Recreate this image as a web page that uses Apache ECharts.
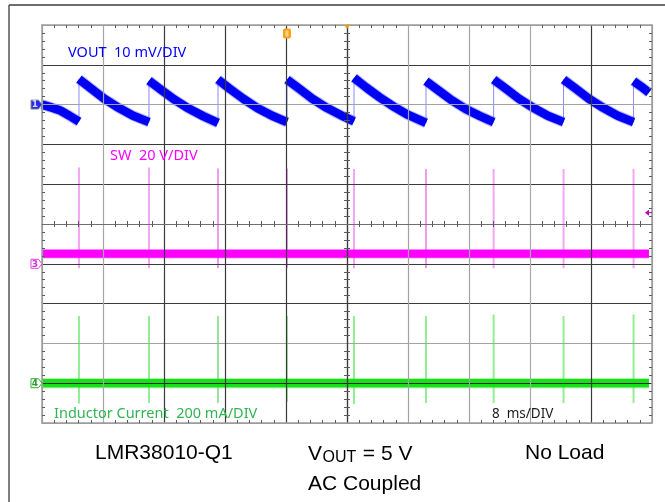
<!DOCTYPE html>
<html><head><meta charset="utf-8">
<script src="https://cdn.jsdelivr.net/npm/echarts@6/dist/echarts.min.js"></script>
<style>html,body{margin:0;padding:0;background:#fff;}#c{width:665px;height:502px;}</style>
</head><body><div id="c"></div>
<script>
// ---- data (time in ms, 8 ms/div) ----
const switchTimesMs = [4.85, 14.03, 23.08, 32.13, 40.92, 50.36, 59.23, 68.40, 77.58];
const traceSpanMs = [0, 79.6];
// VOUT ripple (AC coupled), mV, one sub-array per ramp
const voutTimeMs = [
  [0.00, 1.20, 2.40, 3.60, 4.85],
  [4.85, 6.45, 8.15, 10.05, 11.95, 14.03],
  [14.03, 15.63, 17.33, 19.23, 21.13, 23.08],
  [23.08, 24.68, 26.38, 28.28, 30.18, 32.13],
  [32.13, 33.73, 35.43, 37.33, 39.23, 40.92],
  [40.92, 42.52, 44.22, 46.12, 48.02, 50.36],
  [50.36, 51.96, 53.66, 55.56, 57.46, 59.23],
  [59.23, 60.83, 62.53, 64.43, 66.33, 68.40],
  [68.40, 70.00, 71.70, 73.60, 75.50, 77.58],
  [77.58, 78.60, 79.60]
];
const voutMv = [
  [0.0, -0.7, -1.5, -2.8, -4.3],
  [6.4, 4.0, 1.5, -0.8, -2.8, -4.4],
  [6.0, 3.7, 1.3, -1.0, -2.9, -4.6],
  [6.3, 3.9, 1.5, -0.9, -2.8, -4.4],
  [6.3, 4.0, 1.5, -0.8, -2.7, -4.2],
  [6.7, 4.3, 1.9, -0.5, -2.6, -4.6],
  [5.9, 3.6, 1.2, -1.1, -2.9, -4.4],
  [6.3, 4.0, 1.5, -0.8, -2.8, -4.4],
  [6.3, 4.0, 1.5, -0.8, -2.8, -4.4],
  [5.9, 4.5, 3.0]
];
// SW node, V
const swLevelV = 5.0;
const swSpikeHighV = [48.4, 48.4, 47.9, 47.9, 47.6, 47.6, 47.6, 47.6, 47.6];
const swSpikeLowV = [-2.2, -2.2, -2.2, -2.2, -2.2, -2.2, -2.2, -2.2, -2.2];
const triggerLevelV = 25.7;
// Inductor current, mA
const ilLevelmA = 0;
const ilSpikeHighmA = [338, 338, 338, 338, 338, 338, 345, 338, 345];
const ilSpikeLowmA = [-102, -99, -99, -94, -106, -99, -99, -99, -99];

// ---- channel setup (div offsets and scales) ----
const ch = {
  vout: {ref: 3, perDiv: 10},
  sw: {ref: -1, perDiv: 20},
  il: {ref: -4, perDiv: 200}
};
const swDarkIdx = [2, 3, 5];
const ilDarkIdx = [2, 3];

const toDiv = (c, v) => c.ref + v / c.perDiv;
const GAP = '-';

const voutThick = [];
const voutThin = [];
voutTimeMs.forEach((seg, s) => {
  seg.forEach((t, i) => {
    const p = [t, toDiv(ch.vout, voutMv[s][i])];
    voutThick.push(p); voutThin.push(p);
  });
  voutThick.push([seg[seg.length - 1], GAP]);
});
function spikes(c, highs, lows, pick) {
  const out = [];
  switchTimesMs.forEach((t, i) => {
    if (!pick(i)) return;
    out.push([t, toDiv(c, lows[i])], [t, toDiv(c, highs[i])], [t, GAP]);
  });
  return out;
}
const flat = (c, v) => traceSpanMs.map(t => [t, toDiv(c, v)]);

const lineS = (name, data, color, width, z, extra) => Object.assign({
  type: 'line', name, data, symbol: 'none', silent: true, z,
  lineStyle: {color, width, cap: 'butt', join: 'round'},
  connectNulls: false, animation: false
}, extra || {});

const xCols = ['#9e9e9e','#a6a6a6','#3a3a3a','#3a3a3a','#3a3a3a','#3a3a3a','#a2a2a2','#a2a2a2','#aaaaaa','#3a3a3a','#9e9e9e'];
const yCols = ['#9e9e9e','#262626','#a2a2a2','#3a3a3a','#3a3a3a','#6e6e6e','#3a3a3a','#3a3a3a','#a2a2a2','#3a3a3a','#9e9e9e'];

const baseAxis = {
  type: 'value', silent: true, z: 10,
  axisLabel: {show: false},
  axisTick: {show: false, inside: true},
  minorTick: {show: true, splitNumber: 5, length: 3, lineStyle: {color: '#5a5a5a', width: 1}},
  axisLine: {show: true, onZero: false, lineStyle: {color: '#9c9c9c', width: 1.5}},
  splitLine: {show: false}
};
const ax = (o) => Object.assign({}, baseAxis, o);

const chart = echarts.init(document.getElementById('c'), null, {renderer: 'canvas'});
chart.setOption({
  backgroundColor: '#ffffff',
  animation: false,
  grid: {left: 42, top: 25, right: 13, bottom: 79, outerBoundsMode: 'none', containLabel: false},
  xAxis: [
    ax({min: 0, max: 80, interval: 8, position: 'bottom',
        splitLine: {show: true, lineStyle: {color: xCols, width: 1.2}}}),
    ax({min: 0, max: 80, interval: 8, position: 'top'}),
    ax({min: -40, max: 40, interval: 8, position: 'bottom',
        axisLine: {show: true, onZero: true, onZeroAxisIndex: 0, lineStyle: {color: '#6e6e6e', width: 1.2}},
        axisTick: {show: false, inside: true}}),
    ax({min: -40, max: 40, interval: 8, position: 'bottom',
        axisLine: {show: false, onZero: true, onZeroAxisIndex: 0},
        axisTick: {show: false, inside: false}})
  ],
  yAxis: [
    ax({min: -5, max: 5, interval: 1, position: 'left',
        splitLine: {show: true, lineStyle: {color: yCols, width: 1.2}}}),
    ax({min: -5, max: 5, interval: 1, position: 'right'}),
    ax({min: -5, max: 5, interval: 1, position: 'left',
        axisLine: {show: true, onZero: true, onZeroAxisIndex: 2, lineStyle: {color: '#3a3a3a', width: 1.2}},
        axisTick: {show: false, inside: true}}),
    ax({min: -5, max: 5, interval: 1, position: 'left',
        axisLine: {show: false, onZero: true, onZeroAxisIndex: 2},
        axisTick: {show: false, inside: false}})
  ],
  series: [
    // VOUT
    lineS('vout-edge', voutThin, '#8a8aff', 1, 1, {connectNulls: true}),
    lineS('vout-halo', voutThick, 'rgba(40,40,255,0.35)', 10.5, 2),
    lineS('vout', voutThick, '#0000f2', 8.5, 3),
    // SW
    lineS('sw-spk', spikes(ch.sw, swSpikeHighV, swSpikeLowV, i => swDarkIdx.indexOf(i) < 0), '#f4a6f4', 2, 1),
    lineS('sw-spk2', spikes(ch.sw, swSpikeHighV, swSpikeLowV, i => swDarkIdx.indexOf(i) >= 0), '#e236e2', 1, 1),
    lineS('sw-halo', flat(ch.sw, swLevelV), 'rgba(255,60,255,0.45)', 9.5, 2),
    lineS('sw', flat(ch.sw, swLevelV), '#ff00ff', 8, 3),
    // Inductor current
    lineS('il-spk', spikes(ch.il, ilSpikeHighmA, ilSpikeLowmA, i => ilDarkIdx.indexOf(i) < 0), '#94ee94', 2, 1),
    lineS('il-spk2', spikes(ch.il, ilSpikeHighmA, ilSpikeLowmA, i => ilDarkIdx.indexOf(i) >= 0), '#36c836', 1, 1),
    lineS('il-halo', flat(ch.il, ilLevelmA), 'rgba(30,225,30,0.45)', 10, 2),
    lineS('il', flat(ch.il, ilLevelmA), '#16e016', 8.3, 3)
  ]
});

// ---- annotations placed from the axes ----
const px = t => chart.convertToPixel({xAxisIndex: 0}, t);
const py = d => chart.convertToPixel({yAxisIndex: 0}, d);
const x0 = px(0), xEnd = px(80);
function tag(d, num, fill, stroke, txt) {
  const y = py(d);
  return [
    {type: 'polygon', shape: {points: [[x0 - 11, y - 4.5], [x0 - 3.5, y - 4.5], [x0, y], [x0 - 3.5, y + 4.5], [x0 - 11, y + 4.5]]},
     style: {fill, stroke, lineWidth: 1}, z: 30},
    {type: 'text', x: x0 - 7.2, y: y + 0.5, z: 31,
     style: {text: num, fill: txt, fontSize: 9, fontFamily: 'DejaVu Sans', fontWeight: 'bold', align: 'center', verticalAlign: 'middle'}}
  ];
}
const trigX = px(switchTimesMs[3]);
const trigLvlY = py(toDiv(ch.sw, triggerLevelV));
const txt = (x, y, text, fill, size, family, extra) => Object.assign({
  type: 'text', x, y, z: 30, silent: true,
  style: {text, fill, fontSize: size, fontFamily: family, align: 'left', verticalAlign: 'middle'}
}, extra || {});
const CH = 'Noto Sans', AR = 'Liberation Sans';

chart.setOption({
  graphic: [
    {type: 'line', shape: {x1: 9, y1: 5, x2: 665, y2: 5}, style: {stroke: '#3c3c3c', lineWidth: 1.3}, z: 30},
    {type: 'line', shape: {x1: 9, y1: 5, x2: 9, y2: 502}, style: {stroke: '#3c3c3c', lineWidth: 1.3}, z: 30},
    ...tag(ch.vout.ref, '1', '#2a2ae6', '#8c8c8c', '#d6d6ff'),
    ...tag(ch.sw.ref, '3', '#ffffff', '#e040e0', '#d030d0'),
    ...tag(ch.il.ref, '4', '#ffffff', '#30b030', '#28a028'),
    {type: 'rect', shape: {x: trigX - 4, y: 28.5, width: 8, height: 10, r: 2}, style: {fill: '#f6a01a'}, z: 30},
    {type: 'rect', shape: {x: trigX - 1.5, y: 30.5, width: 3, height: 6}, style: {fill: '#ffd28a'}, z: 31},
    {type: 'polygon', shape: {points: [[px(40) - 3.5, py(5)], [px(40) + 3.5, py(5)], [px(40), py(5) + 3.5]]}, style: {fill: '#f39a10'}, z: 30},
    {type: 'polygon', shape: {points: [[xEnd - 7, trigLvlY], [xEnd - 3, trigLvlY - 3], [xEnd - 3, trigLvlY + 3]]}, style: {fill: '#b000b0'}, z: 30},
    {type: 'line', shape: {x1: xEnd - 4, y1: trigLvlY, x2: xEnd, y2: trigLvlY}, style: {stroke: '#b000b0', lineWidth: 1}, z: 30},
    txt(68, 52.5, 'VOUT  10 mV/DIV', '#0000ff', 14.5, CH),
    txt(110, 156, 'SW  20 V/DIV', '#ff00ff', 14.5, CH),
    txt(54, 413.8, 'Inductor Current  200 mA/DIV', '#30b552', 14.5, CH),
    txt(492, 413.7, '8  ms/DIV', '#1a1a1a', 13.5, CH),
    txt(95, 453.3, 'LMR38010-Q1', '#000000', 21, AR),
    txt(308, 454, 'V', '#000000', 21, AR),
    txt(322.5, 457.8, 'OUT', '#000000', 16, AR),
    txt(357, 454, ' = 5 V', '#000000', 21, AR),
    txt(525, 453.7, 'No Load', '#000000', 21, AR),
    txt(308, 484, 'AC Coupled', '#000000', 21, AR)
  ]
});
</script></body></html>
